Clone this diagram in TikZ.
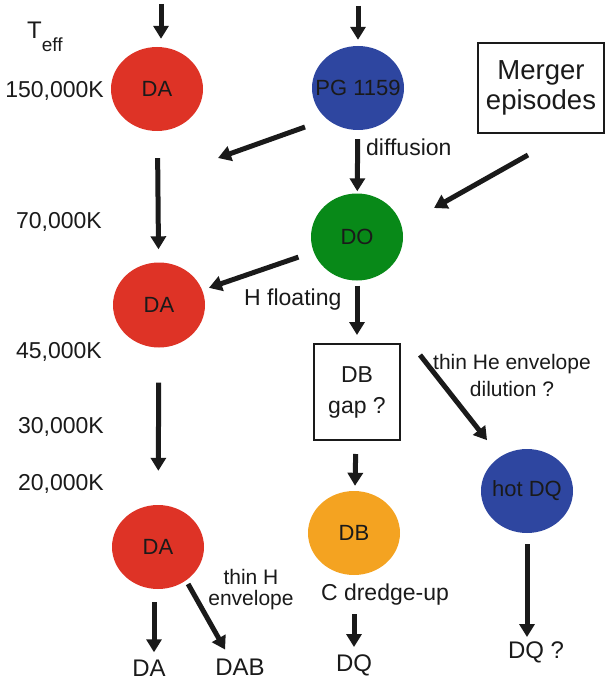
\documentclass[tikz,border=0pt]{standalone}
\usepackage{fontspec}
\setmainfont{Liberation Sans}
\usetikzlibrary{arrows.meta, shapes.geometric}

\definecolor{dared}{HTML}{DE3326}
\definecolor{pgblue}{HTML}{2E46A0}
\definecolor{dogreen}{HTML}{088918}
\definecolor{dborange}{HTML}{F4A321}
\definecolor{ink}{HTML}{1A1A1A}

\begin{document}
\begin{tikzpicture} [
  x = 1pt,
  y = -1pt,
  star/.style = {
    ellipse,
    minimum width = 92pt,
    minimum height = 84pt,
    inner sep = 0pt,
    text = ink,
    font = \fontsize{22}{24}\selectfont,
  },
  box/.style = {
    draw = ink,
    line width = 2pt,
    inner sep = 0pt,
    align = center,
    text = ink,
  },
  flow/.style = {
    draw = ink,
    line width = 5pt,
    -{Triangle[width = 15pt, length = 13pt]},
  },
  txt/.style = {
    inner sep = 0pt,
    text = ink,
    font = \fontsize{23}{28}\selectfont,
  },
  smalltxt/.style = {
    inner sep = 0pt,
    align = center,
    text = ink,
  },
  temp/.style = {
    txt,
    anchor = base east,
  },
]
\useasboundingbox (0, 0) rectangle (606, 682);

% temperature scale
\node [txt, anchor = base west, font = \fontsize{24}{24}\selectfont] (teff) at (27, 39) {T\raisebox{-13pt}{\fontsize{19}{19}\selectfont eff}};
\node [temp] (t150) at (104, 98) {150,000K};
\node [temp] (t70) at (102, 228) {70,000K};
\node [temp] (t45) at (102, 358) {45,000K};
\node [temp] (t30) at (104, 433) {30,000K};
\node [temp] (t20) at (104, 490) {20,000K};

% stars
\node [star, fill = dared] (da1) at (157, 89) {DA};
\node [star, fill = pgblue] (pg) at (358, 88) {\makebox[0pt]{PG 1159}};
\node [star, fill = dogreen, minimum height = 87pt] (do) at (357, 237) {DO};
\node [star, fill = dared, minimum height = 85pt] (da2) at (159, 305) {DA};
\node [star, fill = dared] (da3) at (158, 547) {DA};
\node [star, fill = dborange] (db) at (354, 533) {DB};
\node [star, fill = pgblue] (hotdq) at (527, 491) {\makebox[0pt]{hot DQ}};

\node [box, minimum width = 126pt, minimum height = 90pt, font = \fontsize{27.5}{30}\selectfont] (merger) at (541, 88) {Merger\\episodes};
\node [box, minimum width = 86pt, minimum height = 96pt, font = \fontsize{23}{31}\selectfont] (dbgap) at (357, 392) {DB\\gap ?};

\node [txt, anchor = base west] (diffusion) at (366, 155) {diffusion};
\node [txt, anchor = base west] (hfloat) at (244, 305) {H floating};
\node [txt, anchor = base] (dredge) at (385, 600) {C dredge-up};
\node [smalltxt, font = \fontsize{21}{27}\selectfont] (thinhe) at (512, 375) {thin He envelope\\dilution ?};
\node [smalltxt, font = \fontsize{21}{21}\selectfont] (thinh) at (251, 590) {thin H\\envelope};

\node [txt, anchor = base, font = \fontsize{24}{28}\selectfont] (dafinal) at (149, 676) {DA};
\node [txt, anchor = base, font = \fontsize{24}{28}\selectfont] (dab) at (240, 675) {DAB};
\node [txt, anchor = base, font = \fontsize{24}{28}\selectfont] (dq) at (354, 671) {DQ};
\node [txt, anchor = base, font = \fontsize{24}{28}\selectfont] (dqq) at (536, 658) {DQ ?};

\coordinate (datop) at (161, 4);
\coordinate (pgtop) at (358, 6);
\coordinate (pgtail) at (305, 127);
\coordinate (pgtip) at (218, 158);
\coordinate (mergertail) at (528, 155);
\coordinate (mergertip) at (434, 208);
\coordinate (gaptail) at (420, 355);

\draw [flow, shorten >= 8pt] (datop) -- (datop |- da1.north);
\draw [flow, shorten >= 6pt] (pgtop) -- (pg);
\draw [flow] (pgtail) -- (pgtip);
\draw [flow, shorten <= 9pt, shorten >= 2pt] (pg) -- (do);
\draw [flow] (mergertail) -- (mergertip);
\draw [flow, shorten <= 27pt, shorten >= 13pt] (da1) -- (da2);
\draw [flow, shorten <= 16pt, shorten >= 7pt] (do) -- (da2);
\draw [flow, shorten <= 5pt, shorten >= 8pt] (do) -- (dbgap);
\draw [flow, shorten <= 35pt, shorten >= 34pt] (da2) -- (da3);
\draw [flow, shorten <= 13pt, shorten >= 5pt] (dbgap) -- (db);
\draw [flow, shorten >= 21pt] (gaptail) -- (hotdq);
\draw [flow, shorten <= 13pt, shorten >= 7pt] ([xshift = -4pt] da3.south) -- ([xshift = -4pt] da3.south |- dafinal.north);
\draw [flow, shorten <= 4pt, shorten >= 10pt] (da3.-50) -- ([xshift = -10pt] dab.north);
\draw [flow, shorten <= 39pt, shorten >= 7pt] (db) -- (dq);
\draw [flow, shorten <= 11pt, shorten >= 4pt] (hotdq.south) -- (hotdq.south |- dqq.north);
\end{tikzpicture}
\end{document}
